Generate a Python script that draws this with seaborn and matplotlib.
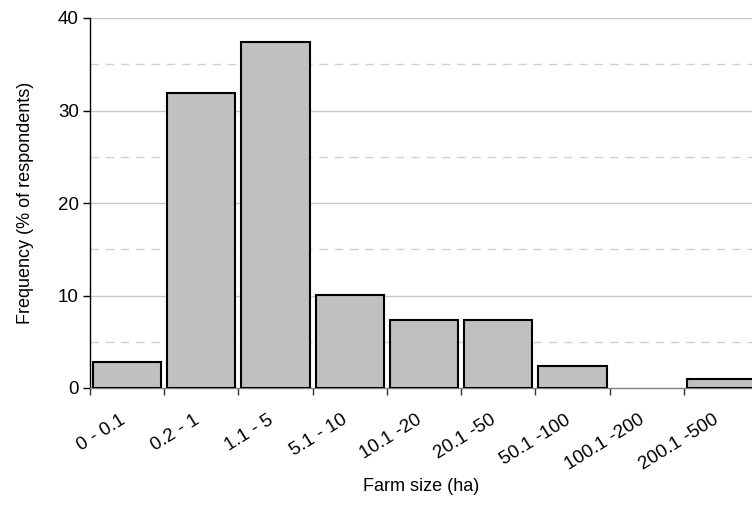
import matplotlib
matplotlib.use("Agg")
import matplotlib.pyplot as plt
import matplotlib.transforms as mtransforms
import seaborn as sns
import pandas as pd
import numpy as np

categories = ["0 - 0.1", "0.2 - 1", "1.1 - 5", "5.1 - 10", "10.1 -20", "20.1 -50",
              "50.1 -100", "100.1 -200", "200.1 -500"]
frequency = [2.8, 31.9, 37.4, 10.1, 7.3, 7.3, 2.4, 0.0, 1.0]

df = pd.DataFrame({"size": categories, "freq": frequency})

sns.set_theme(style="white")
plt.rcParams["font.family"] = ["Liberation Sans", "DejaVu Sans"]
plt.rcParams["text.color"] = "black"
plt.rcParams["axes.labelcolor"] = "black"
plt.rcParams["xtick.color"] = "black"
plt.rcParams["ytick.color"] = "black"

fig = plt.figure(figsize=(7.52, 5.15), dpi=100)
ax = fig.add_axes([90/752, (515-388)/515, 662/752, (388-18)/515])

sns.barplot(data=df, x="size", y="freq", color="#c0c0c0", saturation=1,
            edgecolor="black", linewidth=1.5, width=0.92, ax=ax, zorder=3)
for p in ax.patches:
    if p.get_height() == 0:
        p.set_linewidth(0)

ax.set_ylim(0, 40)
ax.set_xlim(-0.5, 8.42)
ax.set_yticks([0, 10, 20, 30, 40])
for v in [10, 20, 30, 40]:
    ax.axhline(v, color="#c8c8c8", lw=1.0, zorder=1)
for v in [5, 15, 25, 35]:
    ax.axhline(v, color="#d0d0d0", lw=1.0, ls=(0, (6, 5)), zorder=1)

ax.set_xticks(np.arange(len(categories)))
ax.set_xticklabels(categories, rotation=32, ha="right", rotation_mode="anchor", fontsize=13.5)
ax.tick_params(axis="x", which="major", bottom=True, length=0, pad=17, labelcolor="black")
offset = mtransforms.ScaledTranslation(-8/100, 0, fig.dpi_scale_trans)
for lbl in ax.get_xticklabels():
    lbl.set_transform(lbl.get_transform() + offset)
ax.set_xticks(np.arange(len(categories)) - 0.5, minor=True)
ax.tick_params(axis="x", which="minor", bottom=True, length=5, width=1, color="#303030", direction="out")
ax.tick_params(axis="y", which="major", left=True, length=5, width=1, color="black",
               direction="out", labelsize=13.5, pad=3, labelcolor="black")

for s in ["top", "right"]:
    ax.spines[s].set_visible(False)
ax.spines["left"].set_color("black")
ax.spines["left"].set_linewidth(1.0)
ax.spines["bottom"].set_color("#808080")
ax.spines["bottom"].set_linewidth(1.0)

ax.set_xlabel("Farm size (ha)", fontsize=13, labelpad=3, color="black")
ax.set_ylabel("Frequency (% of respondents)", fontsize=13, labelpad=17, color="black")

fig.savefig("out.png", dpi=100)
